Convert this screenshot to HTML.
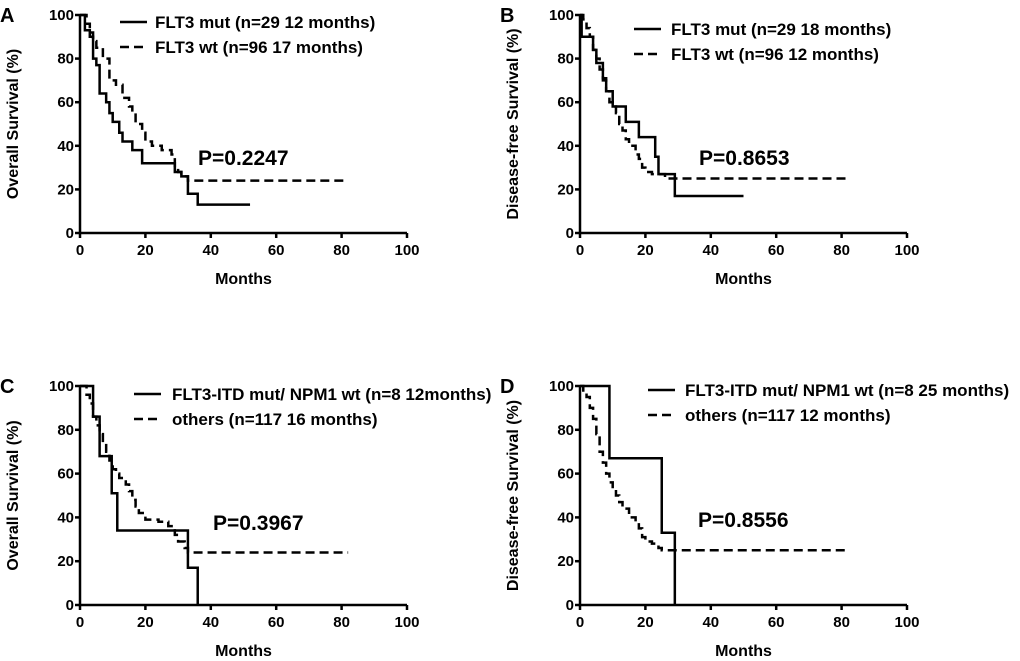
<!DOCTYPE html>
<html><head><meta charset="utf-8"><style>
body{margin:0;background:#fff}
svg{display:block;font-family:"Liberation Sans",Arial,sans-serif;font-weight:bold}
</style></head><body>
<svg id="c" width="1020" height="661" viewBox="0 0 1020 661"></svg>
<script>
const xTicks=[0,20,40,60,80,100];
const yTicks=[0,20,40,60,80,100];
const aMutT=[0,1.5,3,4,5,6,8,9,10,12,13,16,19,29,31,33,36,52];
const aMutS=[100,93,90,80,77,64,60,55,51,46,42,38,32,28,26,18,13,13];
const aWtT=[0,2,3,4,5,7,9,11,13,15,16,17,19,20,22,25,28,29,30,31,33,82];
const aWtS=[100,96,92,88,85,80,70,68,62,58,55,50,46,42,40,38,36,30,28,26,24,24];
const bMutT=[0,0.5,4,5,7,8,10,14,18,23,24,29,50];
const bMutS=[100,90,84,78,71,65,58,51,44,35,27,17,17];
const bWtT=[0,1,2,3,4,5,6,7,8,9,10,11,12,13,14,15,17,18,19,20,22,26,82];
const bWtS=[100,98,94,90,84,80,75,70,65,60,58,55,50,47,43,40,36,34,30,28,27,25,25];
const cMutT=[0,4,6,9.7,11.4,33,36];
const cMutS=[100,86,68,51,34,17,0];
const cWtT=[0,2,3,4,5,6,7,8,9,10,11,12,14,15,16,17,18,20,24,27,29,30,32,33,82];
const cWtS=[100,96,92,86,82,78,74,70,66,62,60,58,55,52,48,45,42,39,38,36,32,29,26,24,24];
const dMutT=[0,9,25,29];
const dMutS=[100,67,33,0];
const dWtT=[0,1,2,3,4,5,6,7,8,9,10,11,12,13,15,17,18,19,20,22,24,25,82];
const dWtS=[100,97,95,90,85,78,70,65,60,56,53,50,47,44,40,38,35,31,29,28,26,25,25];

const panels=[
 {id:'a',L:'A',x0:80,y0:233,ytitle:'Overall Survival (%)',mT:aMutT,mS:aMutS,wT:aWtT,wS:aWtS,
  leg1:'FLT3 mut (n=29 12 months)',leg2:'FLT3 wt (n=96 17 months)',lx:120,tx:155,ly:28,p:'P=0.2247',px:198,py:165},
 {id:'b',L:'B',x0:580,y0:233,ytitle:'Disease-free Survival (%)',mT:bMutT,mS:bMutS,wT:bWtT,wS:bWtS,
  leg1:'FLT3 mut (n=29 18 months)',leg2:'FLT3 wt (n=96 12 months)',lx:634,tx:671,ly:35,p:'P=0.8653',px:699,py:165},
 {id:'c',L:'C',x0:80,y0:605,ytitle:'Overall Survival (%)',mT:cMutT,mS:cMutS,wT:cWtT,wS:cWtS,
  leg1:'FLT3-ITD mut/ NPM1 wt (n=8 12months)',leg2:'others (n=117 16 months)',lx:134,tx:172,ly:400,p:'P=0.3967',px:213,py:530},
 {id:'d',L:'D',x0:580,y0:605,ytitle:'Disease-free Survival (%)',mT:dMutT,mS:dMutS,wT:dWtT,wS:dWtS,
  leg1:'FLT3-ITD mut/ NPM1 wt (n=8 25 months)',leg2:'others (n=117 12 months)',lx:648,tx:685,ly:396,p:'P=0.8556',px:698,py:527}
];
const NS='http://www.w3.org/2000/svg';
const svg=document.getElementById('c');
function mk(tag,attrs,parent,text){const e=document.createElementNS(NS,tag);for(const k in attrs)e.setAttribute(k,attrs[k]);if(text!==undefined)e.textContent=text;(parent||svg).appendChild(e);return e;}
panels.forEach(p=>{
 const W=327,H=p.id==='a'||p.id==='b'?218:219;
 const sx=v=>p.x0+v/100*W, sy=v=>p.y0-v/100*H;
 const g=mk('g',{});
 
 
 const lt=mk('text',{x:p.x0-80,y:p.y0-H+7,'font-size':20},g,p.L);
 
 
 const ax=mk('path',{d:`M${sx(0)},${sy(100)}V${p.y0}H${sx(100)}`,stroke:'#000','stroke-width':2.5,fill:'none'},g);
 
 
 xTicks.forEach(v=>{
  mk('line',{x1:sx(v),x2:sx(v),y1:p.y0,y2:p.y0+5,stroke:'#000','stroke-width':2.5},g);
  const t=mk('text',{x:sx(v),y:p.y0+22,'font-size':15,'text-anchor':'middle'},g,v);
  
  
 });
 yTicks.forEach(v=>{
  mk('line',{x1:p.x0-5,x2:p.x0,y1:sy(v),y2:sy(v),stroke:'#000','stroke-width':2.5},g);
  const t=mk('text',{x:p.x0-6,y:sy(v)+5,'font-size':15,'text-anchor':'end'},g,v);
  
  
 });
 const xt=mk('text',{x:sx(50),y:p.y0+51,'font-size':16,'text-anchor':'middle'},g,'Months');
 
 
 const yx=p.x0-62, yy=p.y0-H/2;
 const yt=mk('text',{x:yx,y:yy,'font-size':16,'text-anchor':'middle',transform:`rotate(-90 ${yx} ${yy})`},g,p.ytitle);
 
 
 function step(T,S){let d=`M${sx(T[0])},${sy(S[0])}`;for(let i=1;i<T.length;i++){d+=`H${sx(T[i])}V${sy(S[i])}`;}return d;}
 const w=mk('path',{d:step(p.wT,p.wS),stroke:'#000','stroke-width':2.5,fill:'none','stroke-dasharray':'9,5'},g);
 
 
 const m=mk('path',{d:step(p.mT,p.mS),stroke:'#000','stroke-width':2.5,fill:'none'},g);
 
 
 mk('line',{x1:p.lx,x2:p.lx+27,y1:p.ly-6,y2:p.ly-6,stroke:'#000','stroke-width':2.5},g);
 const l1=mk('text',{x:p.tx,y:p.ly,'font-size':17},g,p.leg1);
 
 
 mk('line',{x1:p.lx,x2:p.lx+27,y1:p.ly+19,y2:p.ly+19,stroke:'#000','stroke-width':2.5,'stroke-dasharray':'9,5'},g);
 const l2=mk('text',{x:p.tx,y:p.ly+25,'font-size':17},g,p.leg2);
 
 
 const pv=mk('text',{x:p.px,y:p.py,'font-size':21},g,p.p);
 
 
});
</script>
</body></html>
